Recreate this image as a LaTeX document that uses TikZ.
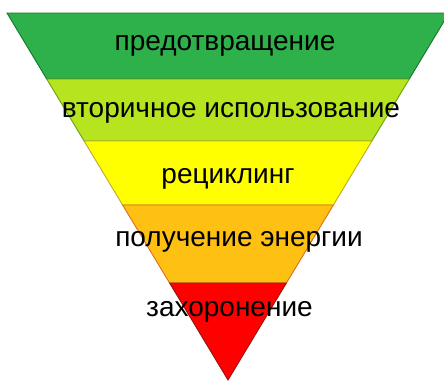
\documentclass[tikz,border=0pt]{standalone}
\usepackage{fontspec}
\setmainfont{Liberation Sans}
\definecolor{dg}{RGB}{46,176,74}
\definecolor{dgb}{RGB}{20,120,40}
\definecolor{lg}{RGB}{182,228,30}
\definecolor{lgb}{RGB}{110,160,20}
\definecolor{yl}{RGB}{255,255,0}
\definecolor{ylb}{RGB}{190,170,40}
\definecolor{og}{RGB}{255,192,20}
\definecolor{ogb}{RGB}{220,110,30}
\definecolor{rd}{RGB}{255,0,0}
\definecolor{rdb}{RGB}{150,20,20}
\tikzset{
  band/.style={line width=0.9pt, line join=miter},
  lbl/.style={anchor=base, inner sep=0pt, font=\fontsize{28}{30}\selectfont, text=black}
}
\begin{document}
\begin{tikzpicture}[x=1pt,y=-1pt]
\useasboundingbox (0,0) rectangle (444,381);
\clip (0,0) rectangle (444,381);
\fill[white] (0,0) rectangle (444,381);
\draw[band, fill=dg, draw=dgb] (7,13) -- (449,13) -- (409.3,79) -- (46.7,79) -- cycle;
\draw[band, fill=lg, draw=lgb] (46.7,79) -- (409.3,79) -- (371.9,141) -- (84.1,141) -- cycle;
\draw[band, fill=yl, draw=ylb] (84.1,141) -- (371.9,141) -- (333.4,205) -- (122.6,205) -- cycle;
\draw[band, fill=og, draw=ogb] (122.6,205) -- (333.4,205) -- (286.4,283) -- (169.6,283) -- cycle;
\draw[band, fill=rd, draw=rdb] (169.6,283) -- (286.4,283) -- (228,380) -- cycle;
\node[lbl] (t1) at (225,50) {предотвращение};
\node[lbl] (t2) at (231,117) {вторичное использование};
\node[lbl] (t3) at (228,183) {рециклинг};
\node[lbl] (t4) at (239,246.7) {получение энергии};
\node[lbl] (t5) at (229.5,316.7) {захоронение};
\end{tikzpicture}
\end{document}
